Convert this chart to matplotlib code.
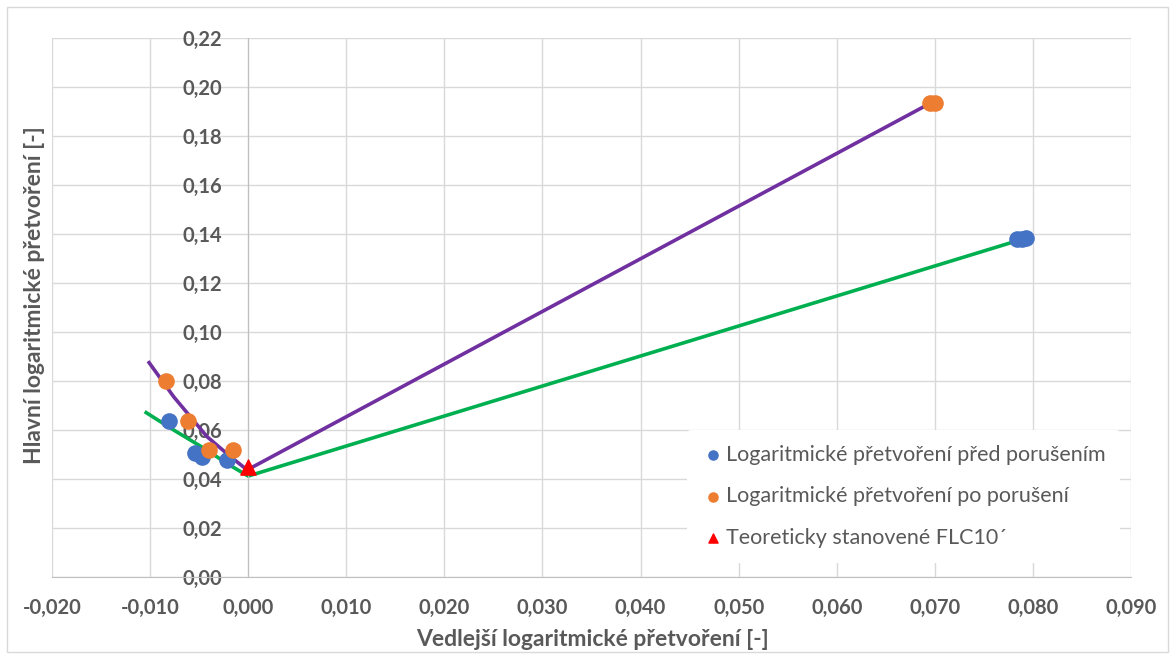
import matplotlib.pyplot as plt
from matplotlib.patches import Rectangle
from matplotlib.ticker import FuncFormatter, MultipleLocator

plt.rcParams['font.family'] = ['Lato', 'DejaVu Sans']

# measured points
pred_x = [-0.0081, -0.0054, -0.0047, -0.0022, 0.0784, 0.0789, 0.0793]
pred_y = [0.0638, 0.0506, 0.0491, 0.0478, 0.1378, 0.1378, 0.1385]
po_x = [-0.0084, -0.0061, -0.0040, -0.0015, 0.0695, 0.0700]
po_y = [0.0801, 0.0638, 0.0518, 0.0518, 0.1933, 0.1935]
flc_x = [0.0]
flc_y = [0.0450]

# FLC curves
fialova_x = [-0.0101, -0.0076, -0.0042, -0.0018, -0.0001, 0.0695]
fialova_y = [0.0875, 0.0736, 0.0573, 0.0491, 0.0437, 0.1933]
zelena_x = [-0.0104, -0.0076, -0.0042, -0.0022, 0.0, 0.0787]
zelena_y = [0.0671, 0.0600, 0.0518, 0.0464, 0.0412, 0.1376]

seda = '#595959'

fig = plt.figure(figsize=(11.76, 6.59), dpi=100)
fig.patches.append(Rectangle((7 / 1176, 7 / 659), 1161 / 1176, 645 / 659,
                             transform=fig.transFigure, fill=False,
                             edgecolor='#D9D9D9', lw=1))
ax = fig.add_axes([52 / 1176, 1 - 577 / 659, (1131 - 52) / 1176, (577 - 38) / 659])

ax.plot(fialova_x, fialova_y, color='#7030A0', lw=2.6, zorder=2)
ax.plot(zelena_x, zelena_y, color='#00B050', lw=2.6, zorder=2)
ax.scatter(pred_x, pred_y, s=120, color='#4472C4', zorder=3,
           label='Logaritmické přetvoření před porušením')
ax.scatter(po_x, po_y, s=120, color='#ED7D31', zorder=3,
           label='Logaritmické přetvoření po porušení')
ax.scatter(flc_x, flc_y, s=120, marker='^', color='#FF0000', zorder=4,
           label='Teoreticky stanovené FLC10´')

ax.set_xlim(-0.02, 0.09)
ax.set_ylim(0, 0.22)
ax.xaxis.set_major_locator(MultipleLocator(0.01))
ax.yaxis.set_major_locator(MultipleLocator(0.02))
ax.xaxis.set_major_formatter(FuncFormatter(lambda v, p: f'{v:.3f}'.replace('.', ',').replace('-0,000', '0,000')))
ax.yaxis.set_major_formatter(FuncFormatter(lambda v, p: f'{v:.2f}'.replace('.', ',')))
ax.grid(True, color='#D9D9D9', lw=1)
ax.set_axisbelow(True)

for s in ['top', 'right']:
    ax.spines[s].set_visible(False)
ax.spines['left'].set_position(('data', 0))
ax.spines['left'].set_color('#BFBFBF')
ax.spines['bottom'].set_color('#BFBFBF')
ax.tick_params(length=0, colors=seda, labelsize=14.5)
ax.tick_params(axis='y', pad=19)
ax.tick_params(axis='x', pad=15)
for lab in ax.get_xticklabels() + ax.get_yticklabels():
    lab.set_fontweight('bold')

fig.text(35 / 1176, 1 - 295 / 659, 'Hlavní logaritmické přetvoření [-]', rotation=90,
         ha='center', va='center', fontsize=16.5, fontweight='bold', color=seda)
fig.text(592 / 1176, 1 - 640 / 659, 'Vedlejší logaritmické přetvoření [-]',
         ha='center', va='center', fontsize=16.5, fontweight='bold', color=seda)

leg = ax.legend(loc='lower right', bbox_to_anchor=(1.0, 0.006), frameon=True,
                fontsize=15.5, handletextpad=0.1, labelspacing=1.0, borderpad=0.7,
                handlelength=1.0, markerscale=0.6)
leg.get_frame().set_edgecolor('none')
leg.get_frame().set_facecolor('white')
leg.get_frame().set_alpha(1)
for t in leg.get_texts():
    t.set_color(seda)

fig.savefig('out.png', dpi=100)
